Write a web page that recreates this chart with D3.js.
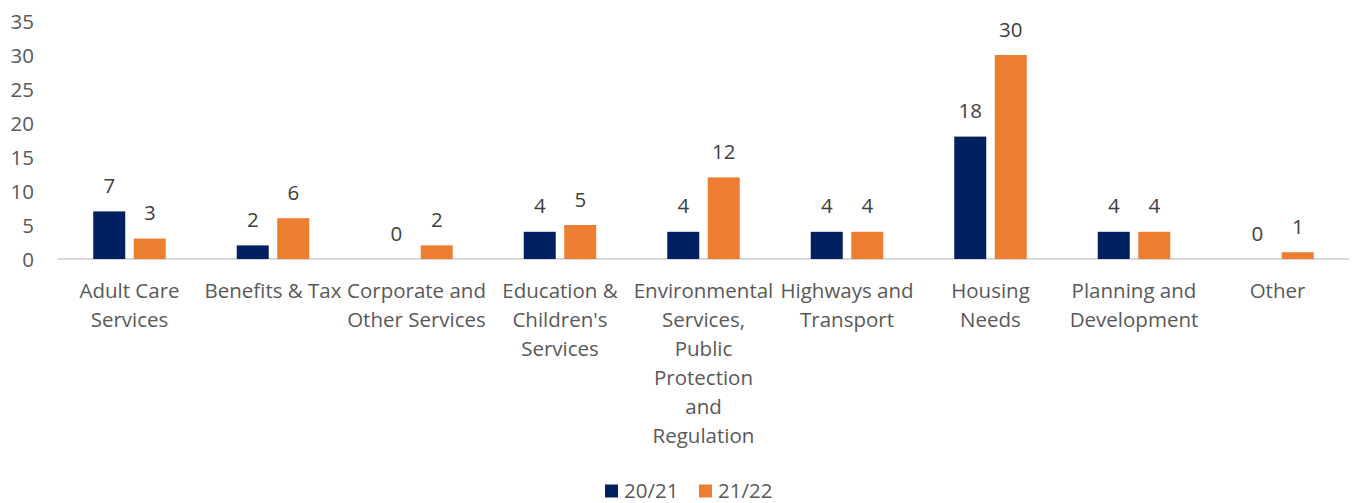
<!DOCTYPE html>
<html>
<head>
<meta charset="utf-8">
<script src="https://cdn.jsdelivr.net/npm/d3@7"></script>
<style>
  html, body { margin: 0; padding: 0; background: #fff; }
  svg { display: block; font-family: "Open Sans", sans-serif; }
</style>
</head>
<body>
<svg id="chart" width="1352" height="503"></svg>
<script>
// Category names (line breaks where the axis label wraps)
const categories = [
  "Adult Care\nServices",
  "Benefits & Tax",
  "Corporate and\nOther Services",
  "Education &\nChildren's\nServices",
  "Environmental\nServices,\nPublic\nProtection\nand\nRegulation",
  "Highways and\nTransport",
  "Housing\nNeeds",
  "Planning and\nDevelopment",
  "Other"
];
const seriesNames = ["20/21", "21/22"];
const values2021 = [7, 2, 0, 4, 4, 4, 18, 4, 0];
const values2122 = [3, 6, 2, 5, 12, 4, 30, 4, 1];
const yTicks = [0, 5, 10, 15, 20, 25, 30, 35];
const colors = ["#002060", "#ED7D31"];

const FONT = "20.5px";
const svg = d3.select("#chart");
const margin = { left: 57.75, right: 2.75 };
const width = 1352;

const x = d3.scaleBand()
  .domain(d3.range(categories.length))
  .range([margin.left, width - margin.right])
  .paddingInner(0).paddingOuter(0);

const y = d3.scaleLinear().domain([0, 35]).range([259, 21]);

const barW = 32, barGap = 8.5;
const series = [values2021, values2122];

// Axis baseline
svg.append("line")
  .attr("x1", margin.left).attr("x2", width - margin.right)
  .attr("y1", y(0)).attr("y2", y(0))
  .attr("stroke", "#d9d9d9").attr("stroke-width", 2);

// Y tick labels
const yAxis = d3.axisLeft(y).tickValues(yTicks).tickSize(0).tickPadding(0);
const gy = svg.append("g").attr("transform", "translate(34,0)").call(yAxis);
gy.select(".domain").remove();
gy.selectAll("text")
  .attr("fill", "#595959")
  .attr("dy", "0.36em")
  .style("font-size", FONT)
  .style("font-family", "'Open Sans', sans-serif");

// Bars and value labels
series.forEach((vals, si) => {
  const offset = si === 0 ? -barGap / 2 - barW : barGap / 2;
  const g = svg.append("g");
  g.selectAll("rect").data(vals).join("rect")
    .attr("x", (d, i) => x(i) + x.bandwidth() / 2 + offset)
    .attr("width", barW)
    .attr("y", d => y(d))
    .attr("height", d => y(0) - y(d))
    .attr("fill", colors[si]);
  g.selectAll("text").data(vals).join("text")
    .attr("x", (d, i) => x(i) + x.bandwidth() / 2 + offset + barW / 2)
    .attr("y", d => y(d) - 18.5)
    .attr("text-anchor", "middle")
    .attr("fill", "#404040")
    .style("font-size", FONT)
    .text(d => d);
});

// Category labels
const xl = svg.append("g");
categories.forEach((c, i) => {
  const t = xl.append("text")
    .attr("text-anchor", "middle")
    .attr("fill", "#595959")
    .style("font-size", FONT);
  c.split("\n").forEach((line, li) => {
    t.append("tspan")
      .attr("x", x(i) + x.bandwidth() / 2)
      .attr("y", 298 + li * 29)
      .text(line);
  });
});

// Legend
const legend = svg.append("g");
const legendItems = [
  { name: seriesNames[0], color: colors[0], x: 605 },
  { name: seriesNames[1], color: colors[1], x: 699 }
];
legendItems.forEach(it => {
  legend.append("rect")
    .attr("x", it.x).attr("y", 484.5).attr("width", 13).attr("height", 13)
    .attr("fill", it.color);
  legend.append("text")
    .attr("x", it.x + 19).attr("y", 497.5)
    .attr("fill", "#595959")
    .style("font-size", FONT)
    .text(it.name);
});
</script>
</body>
</html>
